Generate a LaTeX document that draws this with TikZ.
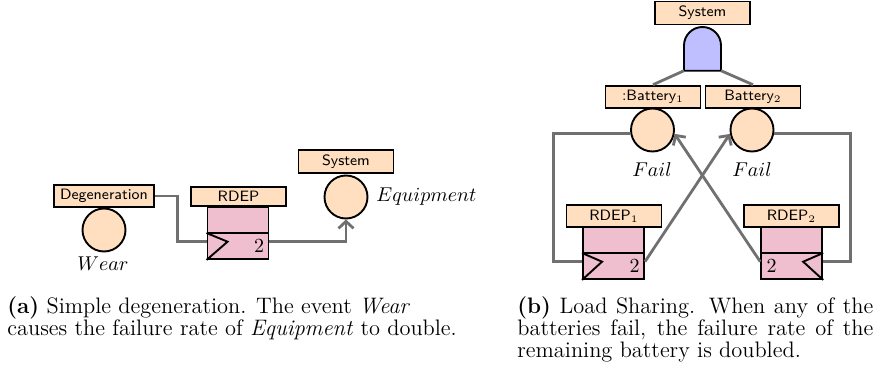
\documentclass[tikz,border=0pt]{standalone}
\usetikzlibrary{arrows.meta,calc}
\definecolor{peach}{RGB}{255,223,191}
\definecolor{rpink}{RGB}{239,191,207}
\definecolor{gateblue}{RGB}{191,191,255}
\definecolor{conn}{RGB}{112,112,112}
\begin{document}
\begin{tikzpicture}[x=0.5pt,y=-0.5pt,
 lbl/.style={draw, fill=peach, line width=0.95pt, font=\fontsize{7.5}{9}\selectfont\sffamily,
   minimum width=47.5pt, inner xsep=3pt, inner ysep=2.3pt},
 evt/.style={circle, draw, fill=peach, line width=0.95pt, minimum size=21.5pt, inner sep=0pt},
 rbody/.style={draw, fill=rpink, line width=0.95pt, minimum width=30.5pt, minimum height=26pt, inner sep=0pt},
 outl/.style={black, line width=0.95pt},
 wire/.style={draw=conn, line width=1.4pt},
 arr/.style={wire, -{Straight Barb[length=3.5pt,width=7.5pt]}},
 mlabel/.style={font=\fontsize{10}{12}\selectfont, inner sep=0pt},
 captxt/.style={font=\fontsize{11.2}{13}\selectfont, inner sep=0pt, anchor=base west}]
\useasboundingbox (0,0) rectangle (889,375);

% ---------------- (a) ----------------
\node[lbl] (deg) at (104,196) {Degeneration};
\node[evt] (wear) at (104,230) {};
\node[mlabel, anchor=base] (wearl) at (103,270) {$Wear$};

\node[lbl] (rdl) at (238.5,196.5) {RDEP};
\node[rbody] (rb) at (238,233) {};
\draw[outl] (rb.west) -- (rb.east);
\draw[outl] (rb.west) -- ($(rb.west)+(21,8.7)$) -- (rb.south west);
\node[mlabel, anchor=base east] (rbtwo) at ($(rb.south east)+(-5,-7)$) {$2$};
\coordinate (rbin) at ($(rb.west)+(0,8.7)$);
\coordinate (rbout) at ($(rb.east)+(0,8.7)$);

\node[lbl] (sys1) at (346,161.7) {System};
\node[evt] (equip) at (346,197) {};
\node[mlabel, anchor=base west] (equipl) at (376,201) {$Equipment$};

\draw[wire] (deg.east) -- ++(23,0) |- (rbin);
\draw[arr] (rbout) -| (equip.south);

% ---------------- (b) ----------------
\node[lbl] (sys2) at (702.5,13) {System};
\draw[outl, fill=gateblue] (684,70.7) -- (684,45.5) arc[start angle=180, end angle=360, radius=18.5] -- (721,70.7) -- cycle;
\coordinate (gl) at (684,70.7);
\coordinate (gr) at (721,70.7);

\node[lbl] (b1) at (653,97) {:Battery$_1$};
\node[lbl] (b2) at (753,97) {Battery$_2$};
\draw[wire] (gl) -- (b1.north);
\draw[wire] (gr) -- (b2.north);

\node[evt] (f1) at (652.5,130) {};
\node[evt] (f2) at (752,130) {};
\node[mlabel, anchor=base] (f1l) at (652,176) {$Fail$};
\node[mlabel, anchor=base] (f2l) at (752,176) {$Fail$};

\node[lbl] (rd1) at (614,216) {RDEP$_1$};
\node[rbody] (r1) at (613.5,253) {};
\draw[outl] (r1.west) -- (r1.east);
\draw[outl] (r1.west) -- ($(r1.west)+(20,8.7)$) -- (r1.south west);
\node[mlabel, anchor=base east] (r1two) at ($(r1.south east)+(-5,-7)$) {$2$};
\coordinate (r1in) at ($(r1.west)+(0,8.7)$);
\coordinate (r1out) at ($(r1.east)+(0,8.7)$);

\node[lbl] (rd2) at (791.5,216) {RDEP$_2$};
\node[rbody] (r2) at (791.7,253) {};
\draw[outl] (r2.west) -- (r2.east);
\draw[outl] (r2.east) -- ($(r2.east)+(-20,8.7)$) -- (r2.south east);
\node[mlabel, anchor=base west] (r2two) at ($(r2.south west)+(6,-7)$) {$2$};
\coordinate (r2in) at ($(r2.east)+(0,8.7)$);
\coordinate (r2out) at ($(r2.west)+(0,8.7)$);

\draw[wire] (f1.188) -- ++(-76.5,0) |- (r1in);
\draw[wire] (f2.352) -- ++(76.5,0) |- (r2in);
\draw[arr] (r1out) -- (f2.190);
\draw[arr] (r2out) -- (f1.350);

% ---------------- captions ----------------
\node[captxt] (ca1) at (7,313) {\textbf{(a)} Simple degeneration. The event \textit{Wear}};
\node[captxt] (ca2) at (7,335) {causes the failure rate of \textit{Equipment} to double.};
\node[captxt] (cb1) at (517,313) {\makebox[178pt][s]{\textbf{(b)} Load Sharing. When any of the}};
\node[captxt] (cb2) at (517,335) {\makebox[178pt][s]{batteries fail, the failure rate of the}};
\node[captxt] (cb3) at (517,357) {remaining battery is doubled.};
\end{tikzpicture}
\end{document}
